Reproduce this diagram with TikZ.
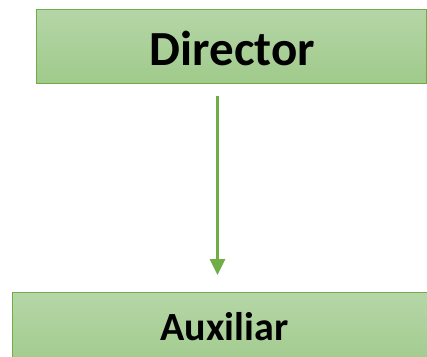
\documentclass[tikz,border=0pt]{standalone}
\usepackage{fontspec}
\setmainfont{Carlito}
\usetikzlibrary{arrows.meta}
\definecolor{boxtop}{HTML}{B5D6A7}
\definecolor{boxbot}{HTML}{A0CA8B}
\definecolor{boxline}{HTML}{70AD47}
\tikzset{
  greenbox/.style={draw=boxline, line width=1.2pt, top color=boxtop, bottom color=boxbot, inner sep=0pt},
  link/.style={draw=boxline, line width=3.2pt, -{Triangle[length=16pt,width=15pt]}, shorten >=0pt}
}
\begin{document}
\begin{tikzpicture}[x=1pt,y=1pt]
\useasboundingbox (0,0) rectangle (427,-356);
\begin{scope}
\clip (0,0) rectangle (427,-356);
\node[greenbox, minimum width=390, minimum height=74, anchor=north west] (director) at (35.5,-8.5) {};
\node[greenbox, minimum width=430, minimum height=80, anchor=north west] (auxiliar) at (11.5,-291.5) {};
\end{scope}
\node[font=\bfseries\fontsize{49}{49}\selectfont, anchor=base] (dtext) at (232.5,-65) {Director};
\node[font=\bfseries\fontsize{40}{40}\selectfont, anchor=base] (atext) at (224.5,-340) {Auxiliar};
\coordinate (astart) at (217.5,-96);
\coordinate (aend) at (217.5,-275);
\draw[link] (astart) -- (aend);
\end{tikzpicture}
\end{document}
